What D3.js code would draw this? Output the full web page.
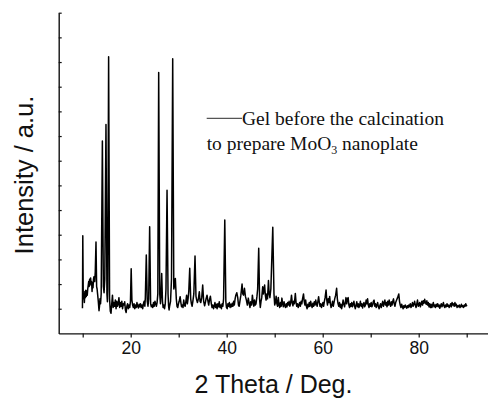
<!DOCTYPE html>
<html>
<head>
<meta charset="utf-8">
<script src="https://cdn.jsdelivr.net/npm/d3@7/dist/d3.min.js"></script>
<style>
  html, body { margin: 0; padding: 0; background: #fff; }
  svg { display: block; }
</style>
</head>
<body>
<svg id="chart" width="488" height="398"></svg>
<script>
// ---- data ----
const xTickValues = [20, 40, 60, 80];
const xMinorTickValues = [10, 30, 50, 70, 90];
const yTickValues = [0, 100, 200, 300, 400, 500, 600, 700, 800, 900, 1000, 1100, 1200];
const xLabel = "2 Theta / Deg.";
const yLabel = "Intensity / a.u.";
const legendLine1 = "Gel before the calcination";
const legendLine2a = "to prepare MoO";
const legendLine2sub = "3";
const legendLine2b = " nanoplate";

// [2θ (deg), intensity (a.u.)]
const xrd = [
[9.95,2],[10.02,296],[10.12,40],[10.25,60],[10.35,25],[10.45,70],[10.55,45],[10.65,75],[10.75,50],[10.85,72],
[10.95,55],[11.05,80],[11.15,95],[11.25,110],[11.35,90],[11.45,120],[11.55,100],[11.65,125],[11.75,95],[11.85,110],
[11.95,70],[12.05,105],[12.15,85],[12.25,120],[12.35,130],[12.5,110],[12.62,150],[12.77,270],[12.9,90],[13.0,80],
[13.1,60],[13.25,30],[13.4,-8],[13.5,10],[13.6,40],[13.72,20],[13.85,60],[14.1,680],[14.3,90],[14.45,65],
[14.6,120],[14.85,747],[15.05,60],[15.15,28],[15.22,80],[15.4,1021],[15.6,40],[15.75,-10],[15.9,-18],[16.05,20],
[16.2,55],[16.35,5],[16.5,25],[16.65,10],[16.8,35],[16.95,0],[17.1,30],[17.25,10],[17.4,20],[17.55,45],
[17.7,5],[17.85,25],[18.0,10],[18.15,30],[18.3,0],[18.45,20],[18.6,15],[18.75,28],[18.9,-5],[19.05,-15],
[19.2,10],[19.35,20],[19.5,0],[19.65,15],[19.8,5],[19.95,30],[20.1,162],[20.25,35],[20.4,15],[20.55,5],
[20.7,20],[20.85,0],[21.0,15],[21.15,5],[21.3,25],[21.45,10],[21.6,3],[21.75,18],[21.9,8],[22.05,20],
[22.2,5],[22.35,15],[22.5,0],[22.65,20],[22.8,30],[22.95,10],[23.05,45],[23.25,218],[23.45,30],[23.6,10],
[23.75,40],[23.95,332],[24.15,20],[24.3,8],[24.45,15],[24.6,5],[24.75,25],[24.9,10],[25.05,30],[25.2,20],
[25.35,10],[25.5,25],[25.65,60],[25.83,958],[26.05,60],[26.2,20],[26.3,50],[26.46,143],[26.62,30],[26.75,5],
[26.9,15],[27.05,0],[27.2,20],[27.35,80],[27.57,480],[27.78,60],[27.9,10],[28.0,-5],[28.1,10],[28.3,30],
[28.5,120],[28.75,1013],[28.98,80],[29.1,90],[29.3,123],[29.5,40],[29.65,10],[29.8,5],[29.95,20],[30.1,30],
[30.3,49],[30.45,25],[30.6,8],[30.75,15],[30.9,5],[31.05,35],[31.2,15],[31.35,10],[31.5,30],[31.65,55],
[31.8,20],[31.95,40],[32.1,70],[32.3,164],[32.5,40],[32.65,20],[32.8,10],[32.95,30],[33.15,60],[33.4,214],
[33.6,50],[33.75,35],[33.9,25],[34.1,40],[34.3,69],[34.45,30],[34.6,25],[34.8,45],[35.0,96],[35.2,30],
[35.4,12],[35.55,25],[35.7,40],[35.9,55],[36.1,30],[36.25,15],[36.4,35],[36.6,51],[36.8,20],[36.95,5],
[37.1,15],[37.25,0],[37.4,10],[37.55,25],[37.7,5],[37.85,18],[38.0,0],[38.15,20],[38.3,8],[38.45,28],
[38.6,5],[38.75,15],[38.9,0],[39.05,20],[39.2,10],[39.35,40],[39.6,360],[39.82,30],[39.95,5],[40.1,0],
[40.25,20],[40.4,10],[40.55,25],[40.7,5],[40.85,18],[41.0,8],[41.15,22],[41.3,10],[41.45,30],[41.6,15],
[41.75,40],[41.9,55],[42.1,65],[42.3,45],[42.45,15],[42.6,10],[42.75,30],[42.95,55],[43.2,100],[43.35,60],
[43.5,55],[43.7,83],[43.9,50],[44.1,35],[44.3,15],[44.5,43],[44.7,20],[44.85,5],[45.0,28],[45.2,15],
[45.35,55],[45.5,30],[45.65,10],[45.8,35],[45.95,15],[46.1,20],[46.3,50],[46.45,80],[46.67,245],[46.85,40],
[47.0,5],[47.15,30],[47.3,45],[47.5,89],[47.65,60],[47.9,96],[48.05,55],[48.2,35],[48.35,60],[48.5,40],
[48.7,114],[48.85,60],[49.0,45],[49.2,80],[49.6,330],[49.85,60],[50.0,15],[50.15,25],[50.3,51],[50.45,20],
[50.6,10],[50.75,46],[50.9,15],[51.05,5],[51.2,25],[51.35,10],[51.5,43],[51.65,20],[51.8,8],[51.95,28],
[52.1,12],[52.25,5],[52.4,20],[52.55,8],[52.7,25],[52.85,15],[53.0,30],[53.15,10],[53.3,20],[53.5,55],
[53.65,25],[53.8,12],[53.95,30],[54.1,20],[54.3,62],[54.45,25],[54.6,10],[54.75,20],[54.9,5],[55.05,15],
[55.2,25],[55.35,10],[55.5,30],[55.65,20],[55.8,40],[56.0,60],[56.15,30],[56.3,15],[56.45,35],[56.6,10],
[56.75,0],[56.9,18],[57.05,8],[57.2,25],[57.35,10],[57.5,30],[57.65,15],[57.8,5],[57.95,22],[58.1,10],
[58.25,28],[58.4,15],[58.55,35],[58.7,20],[58.85,10],[59.0,30],[59.15,49],[59.3,25],[59.45,10],[59.6,20],
[59.75,5],[59.9,15],[60.05,25],[60.2,10],[60.35,30],[60.5,45],[60.7,76],[60.85,35],[61.0,15],[61.15,40],
[61.3,25],[61.45,50],[61.6,20],[61.75,5],[61.9,15],[62.05,30],[62.2,10],[62.35,25],[62.5,40],[62.7,55],
[62.9,83],[63.05,40],[63.2,20],[63.35,10],[63.5,25],[63.65,5],[63.8,18],[63.95,0],[64.1,15],[64.25,35],
[64.4,20],[64.55,8],[64.7,25],[64.85,45],[65.0,20],[65.15,40],[65.3,45],[65.45,15],[65.6,5],[65.75,20],
[65.9,10],[66.05,25],[66.2,8],[66.35,18],[66.5,30],[66.65,10],[66.8,0],[66.95,15],[67.1,28],[67.25,8],
[67.4,20],[67.55,5],[67.7,15],[67.85,30],[68.0,10],[68.15,20],[68.3,3],[68.45,18],[68.6,25],[68.75,8],
[68.9,15],[69.05,35],[69.2,20],[69.35,40],[69.5,15],[69.65,5],[69.8,20],[69.95,10],[70.1,25],[70.25,8],
[70.4,15],[70.55,30],[70.7,35],[70.85,10],[71.0,20],[71.15,5],[71.3,15],[71.45,25],[71.6,8],[71.75,0],
[71.9,12],[72.05,20],[72.2,5],[72.35,18],[72.5,30],[72.65,10],[72.8,22],[72.95,35],[73.1,15],[73.25,25],
[73.4,8],[73.55,30],[73.7,15],[73.85,35],[74.0,20],[74.15,10],[74.3,28],[74.45,15],[74.6,30],[74.75,40],
[74.9,20],[75.05,10],[75.2,25],[75.4,35],[75.6,45],[75.85,60],[76.0,30],[76.15,15],[76.3,5],[76.45,18],
[76.6,8],[76.75,0],[76.9,12],[77.05,5],[77.2,15],[77.35,8],[77.5,2],[77.65,12],[77.8,5],[77.95,15],
[78.1,8],[78.25,20],[78.4,5],[78.55,12],[78.7,25],[78.85,10],[79.0,18],[79.15,30],[79.3,15],[79.45,5],
[79.6,20],[79.75,35],[79.9,10],[80.05,15],[80.2,25],[80.35,8],[80.5,20],[80.65,30],[80.8,15],[80.95,32],
[81.1,22],[81.25,38],[81.4,25],[81.55,18],[81.7,32],[81.85,15],[82.0,25],[82.15,8],[82.3,20],[82.45,5],
[82.6,18],[82.75,5],[82.9,15],[83.05,25],[83.2,8],[83.35,15],[83.5,5],[83.65,18],[83.8,10],[83.95,20],
[84.1,8],[84.25,15],[84.4,2],[84.55,12],[84.7,20],[84.85,8],[85.0,15],[85.15,25],[85.3,10],[85.45,5],
[85.6,15],[85.75,8],[85.9,20],[86.05,10],[86.2,15],[86.35,5],[86.5,12],[86.65,20],[86.8,8],[86.95,25],
[87.1,15],[87.25,20],[87.4,10],[87.55,25],[87.7,12],[87.85,18],[88.0,5],[88.15,12],[88.3,8],[88.45,15],
[88.6,5],[88.75,10],[88.9,18],[89.05,8],[89.2,12],[89.35,5],[89.5,15],[89.65,10],[89.8,20],[89.95,12],
[90.05,15]
];

// ---- layout ----
const svg = d3.select("#chart");
const x = d3.scaleLinear().domain([5, 95]).range([58.7, 490.7]);
const y = d3.scaleLinear().domain([-100, 1200]).range([333.4, 12.7]);

const axisColor = "#111";

// x axis (ticks outward)
const xAxisG = svg.append("g").attr("transform", `translate(0,${y(-100)})`);
xAxisG.call(d3.axisBottom(x).tickValues(xTickValues).tickSize(4).tickPadding(4).tickSizeOuter(0).tickFormat(d3.format("d")));
xAxisG.append("g").call(d3.axisBottom(x).tickValues(xMinorTickValues).tickSize(4).tickSizeOuter(0).tickFormat(""))
  .select(".domain").remove();
xAxisG.selectAll("path.domain").attr("stroke", axisColor).attr("stroke-width", 1.4);
xAxisG.selectAll(".tick line").attr("stroke", axisColor).attr("stroke-width", 1.2);
xAxisG.selectAll(".tick text")
  .attr("font-family", "'Liberation Sans', Arial, sans-serif")
  .attr("font-size", 17.5).attr("fill", "#111");

// y axis (ticks inward, no labels)
const yAxisG = svg.append("g").attr("transform", `translate(${x(5)},0)`);
yAxisG.call(d3.axisRight(y).tickValues(yTickValues).tickSize(3).tickSizeOuter(0).tickFormat(""));
yAxisG.selectAll("path.domain").attr("stroke", axisColor).attr("stroke-width", 1.4);
yAxisG.selectAll(".tick line").attr("stroke", axisColor).attr("stroke-width", 1.2);

// pattern line
const line = d3.line().x(d => x(d[0])).y(d => y(d[1]));
svg.append("path")
  .datum(xrd)
  .attr("d", line)
  .attr("fill", "none")
  .attr("stroke", "#000")
  .attr("stroke-width", 1.5)
  .attr("stroke-linejoin", "round");

// axis titles
svg.append("text")
  .attr("x", 273.5).attr("y", 393)
  .attr("text-anchor", "middle")
  .attr("font-family", "'Liberation Sans', Arial, sans-serif")
  .attr("font-size", 25).attr("fill", "#111")
  .text(xLabel);

svg.append("text")
  .attr("transform", "translate(32.5,175) rotate(-90)")
  .attr("text-anchor", "middle")
  .attr("font-family", "'Liberation Sans', Arial, sans-serif")
  .attr("font-size", 25.5).attr("fill", "#111")
  .text(yLabel);

// legend
const serif = "'Liberation Serif', 'Times New Roman', serif";
svg.append("line")
  .attr("x1", 206.7).attr("x2", 242).attr("y1", 118.3).attr("y2", 118.3)
  .attr("stroke", "#555").attr("stroke-width", 1.2);
svg.append("text")
  .attr("x", 242).attr("y", 125)
  .attr("font-family", serif).attr("font-size", 19.5).attr("fill", "#111")
  .text(legendLine1);
const t2 = svg.append("text")
  .attr("x", 206.7).attr("y", 149.5)
  .attr("font-family", serif).attr("font-size", 19.5).attr("fill", "#111");
t2.append("tspan").text(legendLine2a);
t2.append("tspan").attr("font-size", 12).attr("dy", 4).text(legendLine2sub);
t2.append("tspan").attr("dy", -4).text(legendLine2b);
</script>
</body>
</html>
